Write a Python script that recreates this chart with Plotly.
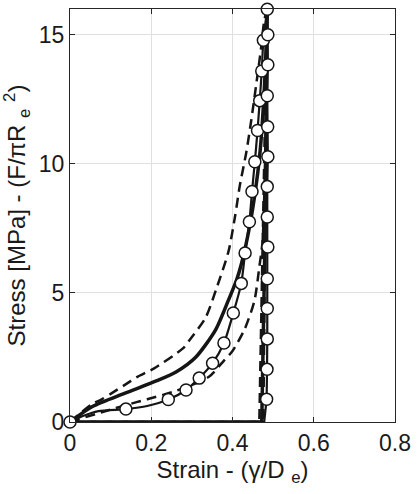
import plotly.graph_objects as go

# Mean model curve (solid, no markers)
mean_load_strain = [0.0, 0.054, 0.134, 0.214, 0.262, 0.310, 0.358, 0.390, 0.410, 0.422, 0.440, 0.455, 0.468, 0.477, 0.482, 0.485]
mean_load_stress = [0.0, 0.59, 1.11, 1.60, 1.95, 2.52, 3.56, 4.72, 5.50, 6.13, 7.40, 8.80, 10.50, 12.50, 14.20, 16.0]
mean_unload_strain = [0.485, 0.481, 0.472, 0.0]
mean_unload_stress = [16.0, 8.0, 0.0, 0.0]

# Upper bound (dashed, left)
upper_load_strain = [0.0, 0.054, 0.078, 0.102, 0.134, 0.166, 0.206, 0.278, 0.294, 0.334, 0.360, 0.390, 0.406, 0.418, 0.434, 0.446, 0.458, 0.470, 0.478, 0.485]
upper_load_stress = [0.0, 0.69, 0.88, 1.11, 1.43, 1.75, 2.07, 2.85, 3.17, 4.05, 5.15, 6.60, 7.94, 9.16, 10.45, 11.67, 13.03, 14.44, 15.54, 16.0]
upper_unload_strain = [0.485, 0.466, 0.0]
upper_unload_stress = [16.0, 0.0, 0.0]

# Lower bound (dashed, right)
lower_load_strain = [0.0, 0.078, 0.166, 0.190, 0.260, 0.342, 0.380, 0.400, 0.430, 0.454, 0.466, 0.474, 0.480, 0.485]
lower_load_stress = [0.0, 0.38, 0.78, 0.88, 1.20, 1.75, 2.40, 2.75, 3.60, 4.70, 6.00, 7.00, 10.0, 16.0]
lower_unload_strain = [0.485, 0.476, 0.0]
lower_unload_stress = [16.0, 0.0, 0.0]

# Experimental curve (thin solid line through circles)
exp_load_strain = [0.0, 0.030, 0.070, 0.1376, 0.190, 0.242, 0.2856, 0.318, 0.351, 0.379, 0.402, 0.4216, 0.431, 0.4416, 0.448, 0.455, 0.4616, 0.467, 0.472, 0.476, 0.4856]
exp_load_stress = [0.0, 0.22, 0.42, 0.50, 0.62, 0.87, 1.24, 1.70, 2.28, 3.06, 4.22, 5.37, 6.55, 7.76, 8.93, 10.08, 11.29, 12.45, 13.60, 14.79, 15.99]
exp_unload_strain = [0.4856, 0.487, 0.487, 0.4856, 0.4866, 0.487, 0.4856, 0.4856, 0.487, 0.4856, 0.4856, 0.4856, 0.485, 0.484, 0.478, 0.0]
exp_unload_stress = [15.99, 15.0, 13.84, 12.64, 11.44, 10.28, 9.12, 7.94, 6.78, 5.55, 4.40, 3.22, 2.04, 0.88, 0.0, 0.0]

# Circle markers of the experimental curve
mark_strain = [0.0, 0.1376, 0.242, 0.2856, 0.318, 0.351, 0.379, 0.402, 0.4216, 0.431, 0.4416, 0.448, 0.455, 0.4616, 0.467, 0.472, 0.476, 0.4856,
               0.487, 0.487, 0.4856, 0.4866, 0.487, 0.4856, 0.4856, 0.487, 0.4856, 0.4856, 0.4856, 0.485, 0.484]
mark_stress = [0.0, 0.50, 0.87, 1.24, 1.70, 2.28, 3.06, 4.22, 5.37, 6.55, 7.76, 8.93, 10.08, 11.29, 12.45, 13.60, 14.79, 15.99,
               15.0, 13.84, 12.64, 11.44, 10.28, 9.12, 7.94, 6.78, 5.55, 4.40, 3.22, 2.04, 0.88]

x_ticks = [0, 0.2, 0.4, 0.6, 0.8]
x_tick_labels = ["0", "0.2", "0.4", "0.6", "0.8"]
y_ticks = [0, 5, 10, 15]
y_tick_labels = ["0", "5", "10", "15"]

LINE = "#151515"
DASH = "10px,6px"
fig = go.Figure()


def add_line(x, y, width, dash=None, shape="linear"):
    fig.add_trace(go.Scatter(x=x, y=y, mode="lines", line_shape=shape,
                             line=dict(color=LINE, width=width, dash=dash, smoothing=0.7 if shape == "spline" else None)))


add_line(upper_load_strain, upper_load_stress, 2.5, DASH, "spline")
add_line(upper_unload_strain, upper_unload_stress, 2.5, DASH)
add_line(lower_load_strain, lower_load_stress, 2.5, DASH, "spline")
add_line(lower_unload_strain, lower_unload_stress, 2.5, DASH)
add_line(mean_load_strain, mean_load_stress, 3.5, None, "spline")
add_line(mean_unload_strain, mean_unload_stress, 3.5)
add_line(exp_load_strain, exp_load_stress, 2.2, None, "spline")
add_line(exp_unload_strain, exp_unload_stress, 2.2)
fig.add_trace(go.Scatter(x=mark_strain, y=mark_stress, mode="markers", cliponaxis=False,
                         marker=dict(symbol="circle", size=12, color="white",
                                     line=dict(color=LINE, width=1.5))))

axis_common = dict(showline=True, linecolor="#262626", linewidth=1, mirror="allticks",
                   ticks="inside", ticklen=5, tickcolor="#262626",
                   showgrid=True, gridcolor="#e0e0e0", gridwidth=1, zeroline=False,
                   ticklabeloverflow="allow",
                   tickfont=dict(family="Liberation Sans, Arial", size=23, color="#1a1a1a"))

fig.update_layout(
    width=419, height=494,
    margin=dict(l=70, r=15, t=8, b=72),
    paper_bgcolor="white", plot_bgcolor="white",
    showlegend=False,
    font=dict(family="Liberation Sans, Arial", color="#1a1a1a"),
    xaxis=dict(range=[0, 0.8], tickvals=x_ticks, ticktext=x_tick_labels,
               title=dict(text="Strain - (γ/D <sub>e</sub>)", font=dict(size=24), standoff=4),
               **axis_common),
    yaxis=dict(range=[0, 16], tickvals=y_ticks, ticktext=y_tick_labels,
               title=dict(text="Stress [MPa] - (F/πR <sub>e</sub> <sup>2</sup>)", font=dict(size=24), standoff=7),
               **axis_common),
)

fig.write_html("out.html")
